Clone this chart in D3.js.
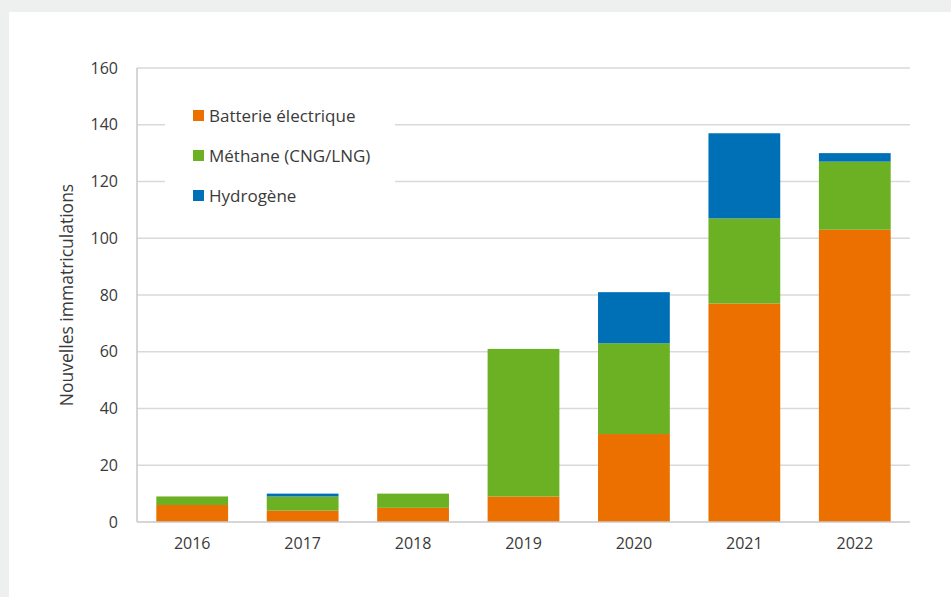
<!DOCTYPE html>
<html>
<head>
<meta charset="utf-8">
<script src="https://cdn.jsdelivr.net/npm/d3@7"></script>
<style>
  body { margin: 0; background: #eef0ef; }
  svg { display: block; }
</style>
</head>
<body>
<div id="chart"></div>
<script>
var years = ["2016", "2017", "2018", "2019", "2020", "2021", "2022"];
var batterie = [6, 4, 5, 9, 31, 77, 103];
var methane = [3, 5, 5, 52, 32, 30, 24];
var hydrogene = [0, 1, 0, 0, 18, 30, 3];
var seriesNames = ["Batterie électrique", "Méthane (CNG/LNG)", "Hydrogène"];
var colors = ["#ec7000", "#6cb023", "#0070b6"];
var yTicks = [0, 20, 40, 60, 80, 100, 120, 140, 160];

var W = 951, H = 597;
var margin = { top: 68, right: 41, bottom: 75, left: 137 },
    width = W - margin.left - margin.right,
    height = H - margin.top - margin.bottom;

var root = d3.select("#chart")
    .append("svg")
    .attr("width", W)
    .attr("height", H);

// white card
root.append("rect")
    .attr("x", 9).attr("y", 12)
    .attr("width", W - 9).attr("height", H - 12)
    .attr("fill", "#ffffff");

var svg = root.append("g")
    .attr("transform", "translate(" + margin.left + "," + margin.top + ")");

var table = years.map(function (y, i) {
    return { year: y, b: batterie[i], m: methane[i], h: hydrogene[i] };
});
var stack = d3.stack().keys(["b", "m", "h"])(table);

var x = d3.scaleBand().domain(years).range([0, width]).paddingInner(0.35).paddingOuter(0.175);
var y = d3.scaleLinear().domain([0, 160]).range([height, 0]);

// gridlines
svg.append("g")
    .selectAll("line")
    .data(yTicks.slice(1))
    .enter().append("line")
    .attr("x1", 0).attr("x2", width)
    .attr("y1", function (d) { return y(d); })
    .attr("y2", function (d) { return y(d); })
    .attr("stroke", "#d9d9d9")
    .attr("stroke-width", 1.5);

// bars
svg.append("g")
    .selectAll("g")
    .data(stack)
    .enter().append("g")
    .attr("fill", function (d, i) { return colors[i]; })
    .selectAll("rect")
    .data(function (d) { return d; })
    .enter().append("rect")
    .attr("x", function (d) { return x(d.data.year); })
    .attr("y", function (d) { return y(d[1]); })
    .attr("width", x.bandwidth())
    .attr("height", function (d) { return y(d[0]) - y(d[1]); });

// axes lines
svg.append("line")
    .attr("x1", 0).attr("x2", 0).attr("y1", 0).attr("y2", height)
    .attr("stroke", "#c8c8c8").attr("stroke-width", 1.5);
svg.append("line")
    .attr("x1", 0).attr("x2", width).attr("y1", height).attr("y2", height)
    .attr("stroke", "#c8c8c8").attr("stroke-width", 1.5);

// y tick labels
var yAxis = svg.append("g")
    .call(d3.axisLeft(y).tickValues(yTicks).tickSize(0).tickPadding(19));
yAxis.select(".domain").remove();
yAxis.selectAll("text")
    .style("font-family", "'Open Sans', sans-serif")
    .style("font-size", "16px")
    .attr("fill", "#3a3a3a");

// x tick labels
var xAxis = svg.append("g")
    .attr("transform", "translate(0," + height + ")")
    .call(d3.axisBottom(x).tickSize(0).tickPadding(16));
xAxis.select(".domain").remove();
xAxis.selectAll("text")
    .style("font-family", "'Open Sans', sans-serif")
    .style("font-size", "16px")
    .attr("fill", "#3a3a3a");

// y label
svg.append("text")
    .attr("text-anchor", "middle")
    .attr("transform", "translate(-64," + (height / 2) + ") rotate(-90)")
    .style("font-family", "'Open Sans', sans-serif")
    .style("font-size", "17.5px")
    .attr("fill", "#3a3a3a")
    .text("Nouvelles immatriculations");

// legend
var legend = svg.append("g").attr("transform", "translate(28,30)");
legend.append("rect")
    .attr("x", 0).attr("y", 0)
    .attr("width", 230).attr("height", 118)
    .attr("fill", "#ffffff");
var items = legend.selectAll("g.item")
    .data(seriesNames)
    .enter().append("g")
    .attr("class", "item")
    .attr("transform", function (d, i) { return "translate(28," + (12 + i * 40) + ")"; });
items.append("rect")
    .attr("width", 11).attr("height", 11)
    .attr("fill", function (d, i) { return colors[i]; });
items.append("text")
    .attr("x", 16).attr("y", 11.5)
    .style("font-family", "'Open Sans', sans-serif")
    .style("font-size", "17px")
    .attr("fill", "#3a3a3a")
    .text(function (d) { return d; });
</script>
</body>
</html>
